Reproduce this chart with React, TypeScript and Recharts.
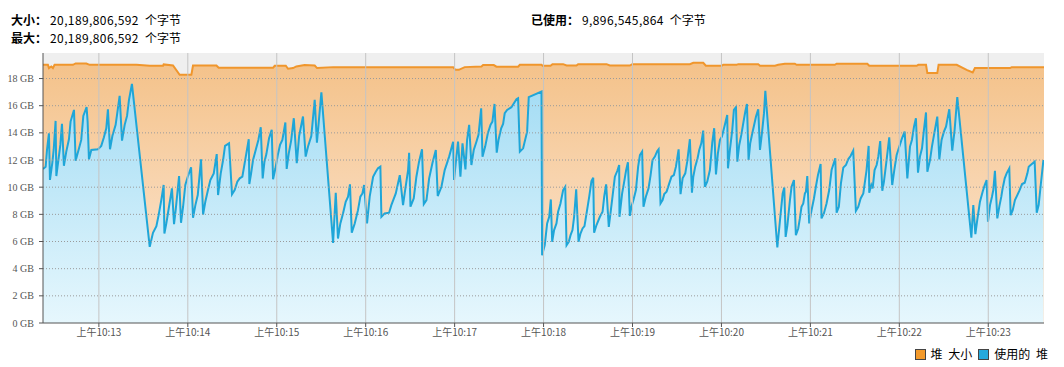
import React from 'react';
import { AreaChart, Area, XAxis, YAxis, CartesianGrid, ReferenceLine } from 'recharts';

// time = seconds since 10:00:00, value = GB
const heapSize: [number, number][] = [
  [742.3, 19.01], [745.6, 19.01], [746.3, 18.77], [747.9, 18.89], [749.0, 18.77], [750.1, 19.01],
  [762.5, 19.01], [764.3, 19.11], [771.5, 19.11], [773.8, 19.01], [805.3, 19.01], [814.3, 18.94],
  [823.3, 18.94], [823.7, 19.04], [830.0, 18.96], [834.5, 18.28], [842.4, 18.28], [843.5, 18.96],
  [859.3, 18.96], [860.8, 18.79], [897.5, 18.79], [898.6, 18.94], [906.1, 18.94], [907.6, 18.72],
  [911.0, 18.77], [913.2, 18.89], [918.8, 18.99], [925.6, 18.96], [927.2, 18.77], [938.0, 18.84],
  [1019.0, 18.84], [1020.5, 18.64], [1022.8, 18.64], [1026.8, 18.84], [1038.1, 18.89], [1039.2, 18.99],
  [1046.4, 18.99], [1048.2, 18.87], [1062.8, 18.87], [1064.0, 19.01], [1078.6, 19.01], [1079.3, 18.94],
  [1084.7, 18.94], [1086.0, 19.06], [1093.2, 19.06], [1095.5, 18.96], [1102.2, 18.96], [1103.3, 19.06],
  [1122.5, 19.06], [1124.7, 18.96], [1138.2, 18.96], [1139.8, 19.06], [1178.7, 19.06], [1181.0, 19.16],
  [1187.7, 19.16], [1189.5, 18.94], [1200.1, 18.94], [1201.2, 19.01], [1210.2, 19.01], [1211.3, 19.06],
  [1224.8, 19.06], [1226.0, 18.94], [1236.1, 18.94], [1238.3, 19.01], [1242.8, 19.09], [1249.5, 19.09],
  [1250.7, 19.01], [1276.5, 19.01], [1277.7, 19.09], [1298.4, 19.09], [1299.7, 18.94], [1331.7, 18.94],
  [1332.8, 19.01], [1338.0, 19.01], [1338.9, 18.40], [1345.6, 18.40], [1346.5, 19.01], [1358.7, 19.01],
  [1365.4, 18.64], [1369.5, 18.45], [1371.0, 18.77], [1394.7, 18.77], [1395.8, 18.84], [1417.6, 18.84],
];

const usedHeap: [number, number][] = [
  [742.3, 11.34], [744.1, 11.51], [745.0, 12.74], [746.3, 13.97], [747.0, 10.53], [748.6, 11.81],
  [749.5, 12.74], [750.8, 14.88], [751.3, 10.82], [752.4, 11.76], [754.0, 13.11], [755.1, 14.66],
  [756.4, 11.58], [758.0, 12.62], [759.8, 13.53], [760.9, 14.83], [763.2, 15.69], [764.3, 11.95],
  [766.6, 12.86], [768.1, 13.48], [769.5, 15.25], [771.7, 15.89], [772.4, 14.83], [773.3, 12.05],
  [774.9, 12.74], [779.4, 12.79], [781.6, 13.04], [783.4, 13.67], [785.0, 14.34], [786.1, 15.74],
  [787.5, 12.79], [789.1, 13.77], [791.3, 14.59], [792.4, 15.45], [794.0, 16.73], [795.6, 13.43],
  [797.4, 14.59], [799.0, 15.25], [800.3, 16.43], [802.3, 17.61], [814.3, 5.61], [816.5, 6.64],
  [818.8, 7.13], [820.3, 7.94], [822.1, 9.05], [823.7, 10.16], [824.2, 6.59], [825.5, 7.33],
  [827.3, 8.56], [829.3, 9.91], [830.7, 7.28], [831.8, 8.31], [834.1, 10.82], [835.4, 7.38],
  [836.8, 8.56], [838.3, 10.16], [840.1, 10.82], [842.2, 11.46], [843.5, 7.75], [845.1, 8.68],
  [846.7, 9.42], [848.9, 12.05], [850.3, 7.99], [851.8, 8.93], [853.6, 9.79], [855.2, 10.53],
  [857.5, 11.02], [859.5, 12.44], [860.4, 9.42], [862.2, 11.02], [863.8, 12.0], [865.1, 13.04],
  [867.8, 13.23], [869.8, 9.47], [871.6, 9.79], [873.4, 10.4], [875.0, 10.65], [876.8, 10.77],
  [879.1, 12.25], [881.1, 13.53], [881.5, 10.23], [882.7, 11.02], [884.0, 12.0], [885.8, 12.74],
  [887.6, 13.48], [889.2, 14.41], [890.5, 10.65], [891.7, 11.88], [893.0, 12.44], [894.8, 13.6],
  [896.6, 14.22], [897.5, 10.58], [899.1, 11.39], [900.7, 12.37], [902.2, 13.11], [903.8, 13.48],
  [905.8, 14.76], [906.7, 11.34], [908.1, 12.49], [909.7, 13.43], [911.5, 15.08], [913.5, 11.76],
  [915.1, 13.77], [917.7, 15.2], [919.5, 12.25], [921.1, 12.99], [923.3, 13.77], [925.6, 16.43],
  [927.1, 13.28], [930.1, 16.99], [938.0, 5.9], [939.8, 9.59], [941.3, 6.22], [942.9, 7.33],
  [944.7, 8.07], [946.5, 8.93], [948.1, 9.3], [949.4, 10.21], [950.6, 6.64], [952.6, 7.33],
  [954.8, 8.31], [956.4, 9.3], [957.8, 9.54], [958.9, 10.16], [960.9, 7.33], [962.7, 9.3],
  [965.0, 10.77], [966.8, 11.14], [968.3, 11.39], [969.9, 11.51], [970.6, 7.82], [972.8, 8.07],
  [975.8, 8.12], [977.3, 8.68], [980.3, 9.54], [983.0, 10.89], [985.2, 8.68], [986.3, 9.54],
  [988.6, 11.26], [989.3, 12.54], [990.2, 8.56], [992.4, 9.17], [994.2, 10.77], [996.0, 11.88],
  [998.0, 12.79], [999.2, 8.75], [1001.0, 9.05], [1002.8, 10.65], [1005.0, 11.76], [1007.3, 12.74],
  [1008.6, 9.35], [1011.1, 10.03], [1013.3, 11.26], [1016.3, 12.25], [1019.0, 13.35], [1019.6, 10.53],
  [1021.2, 12.25], [1022.3, 13.35], [1023.9, 10.77], [1025.3, 13.23], [1027.3, 11.31], [1028.4, 13.48],
  [1029.8, 14.59], [1031.3, 11.63], [1032.9, 12.74], [1034.7, 13.35], [1036.1, 13.85], [1037.9, 15.81],
  [1038.8, 12.25], [1040.6, 12.99], [1042.4, 13.97], [1044.2, 14.59], [1045.5, 14.83], [1046.9, 16.13],
  [1048.4, 12.54], [1049.6, 13.48], [1051.4, 14.34], [1052.7, 14.66], [1053.8, 15.45], [1055.4, 15.69],
  [1058.3, 15.89], [1061.7, 16.48], [1062.8, 16.55], [1064.0, 12.62], [1066.2, 12.86], [1068.9, 14.09],
  [1070.0, 16.63], [1078.6, 17.04], [1079.0, 4.99], [1080.8, 5.73], [1082.4, 7.33], [1083.8, 7.82],
  [1084.9, 9.1], [1085.8, 5.98], [1087.1, 6.84], [1088.7, 7.33], [1089.8, 8.19], [1091.4, 8.8],
  [1093.2, 9.79], [1094.6, 10.03], [1095.5, 5.73], [1097.0, 5.98], [1098.2, 6.47], [1099.5, 6.84],
  [1100.6, 7.82], [1102.0, 9.84], [1103.6, 5.98], [1104.9, 6.59], [1106.3, 6.96], [1107.6, 7.13],
  [1109.0, 8.07], [1110.8, 9.3], [1112.3, 10.45], [1113.5, 10.7], [1114.1, 6.64], [1115.7, 7.21],
  [1118.0, 7.82], [1119.8, 8.19], [1120.9, 9.3], [1122.2, 10.21], [1124.0, 7.08], [1125.4, 8.31],
  [1126.5, 9.3], [1128.1, 10.77], [1129.7, 11.19], [1131.0, 11.63], [1131.2, 7.82], [1133.0, 9.54],
  [1134.2, 10.28], [1135.7, 11.26], [1136.9, 11.83], [1138.2, 7.89], [1139.3, 8.56], [1140.9, 9.17],
  [1142.3, 9.79], [1143.8, 11.51], [1145.0, 12.37], [1146.5, 12.62], [1147.4, 8.56], [1149.0, 9.3],
  [1150.8, 9.91], [1152.2, 10.89], [1153.5, 12.0], [1155.1, 12.25], [1156.7, 12.67], [1157.6, 12.79],
  [1158.9, 8.8], [1160.3, 9.05], [1161.4, 9.49], [1163.0, 9.67], [1164.8, 10.28], [1166.3, 10.77],
  [1167.9, 10.89], [1169.3, 11.51], [1171.1, 12.79], [1172.4, 9.49], [1173.8, 10.65], [1175.6, 11.02],
  [1176.9, 11.88], [1178.7, 13.53], [1180.1, 9.59], [1181.0, 10.77], [1182.3, 11.51], [1183.9, 12.13],
  [1185.0, 12.74], [1186.4, 13.23], [1187.7, 14.17], [1188.8, 10.03], [1190.4, 10.4], [1192.2, 11.26],
  [1193.8, 13.28], [1195.1, 14.34], [1196.3, 10.94], [1197.6, 12.49], [1199.0, 13.48], [1200.3, 13.72],
  [1202.3, 14.59], [1203.9, 15.32], [1204.4, 11.39], [1205.7, 12.74], [1207.3, 14.22], [1208.4, 15.69],
  [1209.8, 15.89], [1210.7, 11.88], [1212.0, 13.11], [1213.4, 13.85], [1214.9, 14.83], [1216.1, 15.57],
  [1217.2, 16.13], [1218.3, 12.0], [1219.4, 13.23], [1220.8, 13.97], [1221.9, 14.51], [1223.3, 15.2],
  [1224.8, 15.74], [1226.0, 12.74], [1227.3, 13.97], [1228.7, 15.45], [1229.6, 17.09], [1237.7, 5.56],
  [1239.5, 7.57], [1241.3, 9.54], [1242.4, 9.98], [1243.3, 6.34], [1244.5, 7.2], [1246.2, 9.05],
  [1247.3, 10.03], [1248.9, 10.53], [1250.2, 6.47], [1251.8, 6.96], [1252.9, 7.7], [1254.0, 8.56],
  [1255.2, 8.8], [1256.3, 9.54], [1257.0, 9.67], [1257.9, 10.82], [1259.2, 7.33], [1260.8, 8.31],
  [1262.4, 9.17], [1263.7, 10.03], [1265.1, 10.89], [1266.9, 11.71], [1267.5, 7.7], [1269.1, 8.07],
  [1270.9, 8.8], [1272.7, 9.79], [1274.3, 11.26], [1276.8, 12.13], [1277.7, 8.12], [1279.2, 8.56],
  [1280.6, 10.28], [1282.2, 11.44], [1284.0, 11.63], [1285.5, 12.05], [1287.1, 12.3], [1288.9, 12.69],
  [1290.7, 8.26], [1292.3, 8.56], [1293.9, 9.17], [1295.7, 9.54], [1297.9, 11.26], [1299.3, 13.04],
  [1299.7, 9.59], [1301.1, 10.16], [1302.0, 9.91], [1303.3, 11.26], [1304.7, 11.63], [1305.8, 12.25],
  [1307.1, 13.4], [1308.5, 9.74], [1309.6, 10.4], [1311.4, 12.0], [1313.2, 13.67], [1315.2, 10.16],
  [1316.6, 11.26], [1318.2, 12.37], [1320.0, 12.99], [1321.8, 13.6], [1323.6, 14.09], [1325.4, 10.65],
  [1327.2, 12.99], [1328.5, 13.48], [1329.9, 14.46], [1331.2, 15.08], [1332.6, 11.07], [1333.9, 12.25],
  [1335.3, 12.86], [1336.6, 14.22], [1338.0, 15.5], [1338.9, 11.14], [1340.7, 12.0], [1342.0, 12.99],
  [1343.4, 13.85], [1345.6, 15.2], [1347.0, 12.05], [1348.5, 13.48], [1350.1, 14.09], [1351.5, 14.46],
  [1353.7, 15.74], [1355.7, 12.69], [1357.3, 14.22], [1359.1, 16.63], [1368.6, 6.29], [1369.9, 8.68],
  [1371.3, 6.54], [1372.6, 7.62], [1374.4, 8.93], [1376.2, 9.67], [1377.6, 10.16], [1378.9, 10.53],
  [1379.8, 7.45], [1381.2, 8.68], [1382.5, 9.3], [1383.4, 9.79], [1384.5, 11.21], [1386.1, 7.7],
  [1387.5, 8.61], [1388.8, 9.3], [1389.5, 9.79], [1391.1, 10.65], [1392.4, 11.02], [1394.2, 11.39],
  [1395.1, 7.94], [1396.5, 8.31], [1398.0, 9.05], [1399.6, 9.42], [1401.0, 9.74], [1402.8, 10.23],
  [1404.6, 10.33], [1406.4, 11.02], [1407.3, 11.51], [1408.6, 11.63], [1410.0, 11.76], [1411.3, 11.88],
  [1412.7, 8.12], [1414.0, 8.68], [1415.4, 10.16], [1417.2, 12.0],
];

const timeTicks = [780, 840, 900, 960, 1020, 1080, 1140, 1200, 1260, 1320, 1380];
const timeLabels = ['上午10:13', '上午10:14', '上午10:15', '上午10:16', '上午10:17', '上午10:18',
  '上午10:19', '上午10:20', '上午10:21', '上午10:22', '上午10:23'];
const gbTicks = [0, 2, 4, 6, 8, 10, 12, 14, 16, 18];

const chartData = [
  ...heapSize.map(([t, v]) => ({ t, size: v })),
  ...usedHeap.map(([t, v]) => ({ t, used: v })),
].sort((a, b) => a.t - b.t);

const CJK = "'Noto Sans CJK SC', sans-serif";

const GbTick = (props: any) => {
  const { x, y, payload } = props;
  return (
    <text x={x - 3} y={y} textAnchor="end" dominantBaseline="central"
      fontSize={10} fill="#555" fontFamily="'Liberation Serif', serif">
      {`${payload.value} GB`}
    </text>
  );
};

const LegendBox: React.FC<{ color: string; label: string }> = ({ color, label }) => (
  <span style={{ display: 'inline-flex', alignItems: 'center', marginLeft: 6 }}>
    <span style={{
      display: 'inline-block', width: 9, height: 9, background: color,
      border: '1px solid #444', marginRight: 5
    }} />
    <span style={{ wordSpacing: 3 }}>{label}</span>
  </span>
);

const numStyle: React.CSSProperties = { letterSpacing: 0.4, marginLeft: 3 };

export default function App() {
  return (
    <div style={{ position: 'absolute', left: 0, top: 0, width: 1064, height: 367, background: '#fff', fontFamily: CJK }}>
      <div style={{ position: 'absolute', left: 11, top: 11, fontSize: 12, lineHeight: '18px', color: '#000' }}>
        <div><b>大小：</b><span style={numStyle}>20,189,806,592</span><span style={{ marginLeft: 6 }}>个字节</span></div>
        <div><b>最大：</b><span style={numStyle}>20,189,806,592</span><span style={{ marginLeft: 6 }}>个字节</span></div>
      </div>
      <div style={{ position: 'absolute', left: 531, top: 11, fontSize: 12, lineHeight: '18px', color: '#000' }}>
        <b>已使用：</b><span style={numStyle}>9,896,545,864</span><span style={{ marginLeft: 6 }}>个字节</span>
      </div>

      <div style={{ position: 'absolute', left: 0, top: 0 }}>
        <AreaChart width={1064} height={367} data={chartData}
          margin={{ top: 53, right: 20, bottom: 24, left: 5 }}>
          <defs>
            <linearGradient id="sizeFill" x1="0" y1="0" x2="0" y2="1">
              <stop offset="0%" stopColor="#f4c28a" />
              <stop offset="100%" stopColor="#fdeada" />
            </linearGradient>
            <linearGradient id="usedFill" x1="0" y1="0" x2="0" y2="1">
              <stop offset="0%" stopColor="#a3dcf4" />
              <stop offset="100%" stopColor="#e6f7fd" />
            </linearGradient>
          </defs>
          <CartesianGrid horizontal={false} vertical={false} fill="#efefef" />
          <XAxis
            dataKey="t"
            type="number"
            domain={[742.3, 1417.6]}
            ticks={timeTicks}
            tickFormatter={(v: number) => timeLabels[timeTicks.indexOf(v)] ?? ''}
            height={20}
            tickSize={4}
            stroke="#555"
            tick={{ fontSize: 10, fill: '#555', fontFamily: CJK }}
            allowDataOverflow
          />
          <YAxis
            type="number"
            domain={[0, 19.88]}
            ticks={gbTicks}
            width={38}
            tickSize={4}
            stroke="#555"
            tick={<GbTick />}
            allowDataOverflow
          />
          <Area
            type="linear"
            dataKey="size"
            name="堆 大小"
            stroke="#f0962c"
            strokeWidth={2}
            fill="url(#sizeFill)"
            fillOpacity={1}
            connectNulls
            dot={false}
            activeDot={false}
            isAnimationActive={false}
          />
          <Area
            type="linear"
            dataKey="used"
            name="使用的 堆"
            stroke="#1fa6d8"
            strokeWidth={2}
            fill="url(#usedFill)"
            fillOpacity={1}
            connectNulls
            dot={false}
            activeDot={false}
            isAnimationActive={false}
          />
          {gbTicks.slice(1).map((g) => (
            <ReferenceLine key={`h${g}`} y={g} stroke="#9a9a9a" strokeDasharray="1 2" strokeWidth={1} />
          ))}
          {timeTicks.map((t) => (
            <ReferenceLine key={`v${t}`} x={t} stroke="#c4c4c4" strokeWidth={1} />
          ))}
        </AreaChart>
      </div>

      <div style={{
        position: 'absolute', right: 16, top: 345, fontSize: 12, lineHeight: '18px',
        color: '#000', display: 'flex'
      }}>
        <LegendBox color="#f39a2b" label="堆 大小" />
        <LegendBox color="#25a9dc" label="使用的 堆" />
      </div>
    </div>
  );
}
